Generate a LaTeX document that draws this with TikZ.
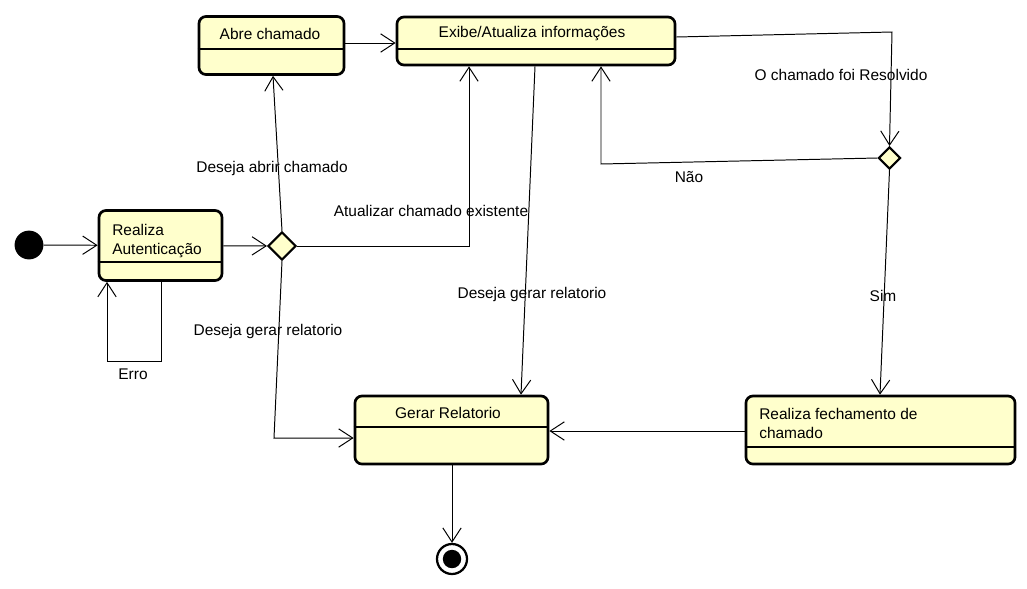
\documentclass[tikz,border=0pt]{standalone}
\usepackage{fontspec}
\setmainfont{Liberation Sans}
\usetikzlibrary{arrows.meta, shapes}
\definecolor{statefill}{RGB}{255,255,204}
\tikzset{
  stbox/.style={draw, line width=1.9pt, rounded corners=5pt, fill=statefill, inner sep=0pt},
  choice/.style={diamond, draw, line width=1.5pt, fill=statefill, inner sep=0pt},
  arr/.style={-{Straight Barb[length=10pt,width=13pt]}, line width=0.7pt},
  divider/.style={line width=0.8pt},
  lbl/.style={inner sep=0pt}
}

\begin{document}
\begin{tikzpicture}[x=0.025cm, y=-0.025cm, font=\fontsize{11pt}{14pt}\selectfont]
  \useasboundingbox (0,0) rectangle (1027,588);

  \node[circle, fill=black, minimum size=0.72cm, inner sep=0pt] (init) at (29,245) {};
  \node[stbox, minimum width=3.075cm, minimum height=1.75cm] (rz) at (160.5,245.5) {};
  \node[stbox, minimum width=3.625cm, minimum height=1.45cm] (abre) at (271.5,45.5) {};
  \node[stbox, minimum width=6.95cm, minimum height=1.2cm] (exibe) at (536,41) {};
  \node[stbox, minimum width=4.825cm, minimum height=1.7cm] (gerar) at (451.5,430) {};
  \node[stbox, minimum width=6.725cm, minimum height=1.7cm] (fech) at (880.5,430) {};
  \node[choice, minimum width=0.7cm, minimum height=0.7cm] (d1) at (282,246) {};
  \node[choice, minimum width=0.55cm, minimum height=0.55cm] (d2) at (889.5,158) {};
  \node[circle, draw, line width=1.6pt, fill=white, minimum size=0.75cm, inner sep=0pt] (fim) at (452,559) {};
  \node[circle, fill=black, minimum size=0.46cm, inner sep=0pt] (fimin) at (fim) {};

  \draw[divider] (rz.west |- 0,262) -- (rz.east |- 0,262);
  \draw[divider] (abre.west |- 0,49) -- (abre.east |- 0,49);
  \draw[divider] (exibe.west |- 0,49) -- (exibe.east |- 0,49);
  \draw[divider] (gerar.west |- 0,427) -- (gerar.east |- 0,427);
  \draw[divider] (fech.west |- 0,447) -- (fech.east |- 0,447);

  \node[lbl, anchor=west, align=left] (trz) at (112,241) {Realiza\\Autenticação};
  \node[lbl] (tabre) at (270,34) {Abre chamado};
  \node[lbl] (texibe) at (532,34) {Exibe/Atualiza informações};
  \node[lbl] (tgerar) at (448,413) {Gerar Relatorio};
  \node[lbl, anchor=west, align=left] (tfech) at (759,423.5) {Realiza fechamento de\\chamado};

  \coordinate (erroR) at (161,361);
  \coordinate (erroL) at (107,361);
  \coordinate (atz) at (469,246);
  \coordinate (grl) at (274,438);
  \coordinate (res) at (892,32);
  \coordinate (nao) at (601,164);

  \draw[arr] (init) -- (rz);
  \draw[arr] (rz) -- (d1);
  \draw[arr] (rz.south -| erroR) -- (erroR) -- (erroL) -- (rz.south -| erroL);
  \draw[arr] (d1.north) -- (abre.south -| 273,0);
  \draw[arr] (d1.east) -- (atz) -- (exibe.south -| atz);
  \draw[arr] (d1.south) -- (grl) -- (gerar.west |- grl);
  \draw[arr] (abre.east |- 0,43) -- (exibe.west |- 0,43);
  \draw[arr] (exibe.south -| 535,0) -- (gerar.north -| 521,0);
  \draw[arr] (exibe.east |- 0,37) -- (res) -- (d2.north);
  \draw[arr] (d2.west) -- (nao) -- (exibe.south -| nao);
  \draw[arr] (d2.south) -- (fech.north -| 880,0);
  \draw[arr] (fech.west |- 0,431) -- (gerar.east |- 0,431);
  \draw[arr] (gerar.south -| fim) -- (fim);

  \node[lbl] (lerro) at (133,374) {Erro};
  \node[lbl] (labre) at (272,168) {Deseja abrir chamado};
  \node[lbl] (latz) at (431,211) {Atualizar chamado existente};
  \node[lbl] (lrel1) at (268,331) {Deseja gerar relatorio};
  \node[lbl] (lrel2) at (532,294) {Deseja gerar relatorio};
  \node[lbl] (lres) at (841,75) {O chamado foi Resolvido};
  \node[lbl] (lnao) at (689,177) {Não};
  \node[lbl] (lsim) at (883,296) {Sim};
\end{tikzpicture}
\end{document}
